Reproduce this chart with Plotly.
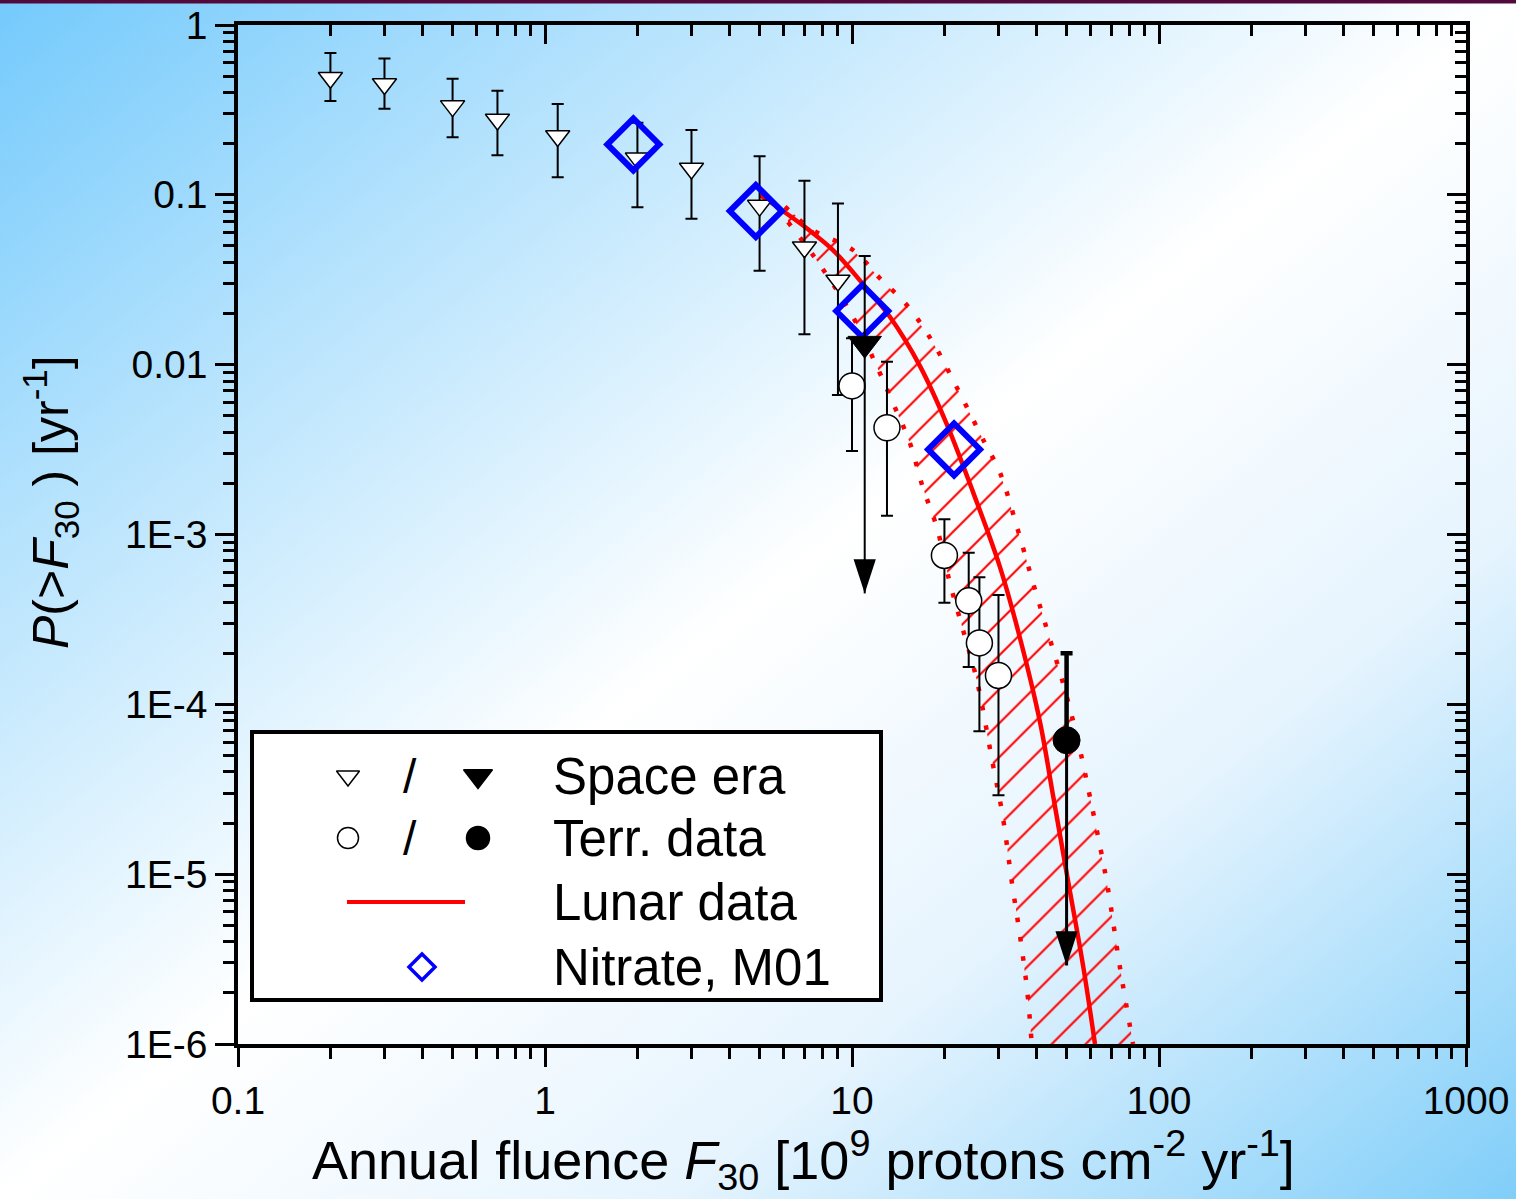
import base64
import plotly.graph_objects as go

# ---------------- data ----------------
# Space era: cumulative probability with error bars (open down-triangles)
space_x = [0.2, 0.3, 0.5, 0.7, 1.1, 2.0, 3.0, 5.0, 7.0, 9.0]
space_y = [0.489, 0.449, 0.333, 0.278, 0.222, 0.164, 0.143, 0.0864, 0.0491, 0.0313]
space_hi = [0.684, 0.634, 0.483, 0.41, 0.343, 0.266, 0.241, 0.169, 0.121, 0.089]
space_lo = [0.357, 0.321, 0.218, 0.171, 0.127, 0.0844, 0.0723, 0.0357, 0.0151, 0.00662]

# Space era upper limit (filled down-triangle)
space_lim_x = [11.0]
space_lim_y = [0.0133]
space_lim_hi = [0.0436]
space_lim_tip = [4.5e-4]

# Terrestrial data (open circles)
terr_x = [10.0, 13.0, 20.0, 24.0, 26.0, 30.0]
terr_y = [0.0075, 0.00425, 7.53e-4, 4.07e-4, 2.3e-4, 1.48e-4]
terr_hi = [0.0143, 0.0104, 1.23e-3, 7.8e-4, 5.6e-4, 4.4e-4]
terr_lo = [0.0031, 0.00129, 3.96e-4, 1.66e-4, 6.95e-5, 2.92e-5]

# Terrestrial upper limit (filled circle)
terr_lim_x = [50.0]
terr_lim_y = [6.15e-5]
terr_lim_hi = [2.0e-4]
terr_lim_tip = [2.9e-6]

# Nitrate, M01 (blue diamonds)
nitrate_x = [1.94, 4.86, 10.8, 21.5]
nitrate_y = [0.198, 0.0803, 0.0207, 0.00317]

# Lunar data: central curve and uncertainty band edges
lunar_x = [5.02, 5.96, 7.12, 8.67, 10.86, 13.3, 16.65, 20.35, 24.79, 30.34, 35.26, 40.97,
           45.26, 50.05, 56.68, 61.87]
lunar_y = [0.0997, 0.0803, 0.0635, 0.0473, 0.0298, 0.01907, 0.00981, 0.00447, 0.001777,
           6.43e-4, 2.45e-4, 7.85e-5, 2.85e-5, 1.01e-5, 2.84e-6, 1.0e-6]
lunar_up_x = [6.05, 7.46, 10.07, 12.3, 15.1, 18.4, 22.0, 27.1, 30.3, 34.5, 38.9, 43.5,
              48.7, 54.1, 59.6, 67.7, 74.6, 82.3]
lunar_up_y = [0.0851, 0.062, 0.0473, 0.0324, 0.0224, 0.0134, 7.28e-3, 3.45e-3, 2.33e-3,
              1.1e-3, 5.17e-4, 2.63e-4, 1.33e-4, 6.41e-5, 2.84e-5, 8.85e-6, 2.83e-6, 1.0e-6]
lunar_lo_x = [6.19, 7.87, 10.07, 12.06, 13.6, 15.45, 17.0, 18.9, 20.8, 23.0, 25.5, 28.6,
              31.0, 33.2, 35.3, 37.2, 38.5]
lunar_lo_y = [0.0691, 0.0386, 0.0191, 9.72e-3, 5.94e-3, 3.45e-3, 1.9e-3, 1.1e-3, 5.25e-4,
              2.74e-4, 1.39e-4, 4.69e-5, 2.17e-5, 8.85e-6, 4.26e-6, 2.07e-6, 1.0e-6]

# Axis ticks
x_tickvals = [0.1, 1, 10, 100, 1000]
x_ticktext = ["0.1", "1", "10", "100", "1000"]
y_tickvals = [1, 0.1, 0.01, 1e-3, 1e-4, 1e-5, 1e-6]
y_ticktext = ["1", "0.1", "0.01", "1E-3", "1E-4", "1E-5", "1E-6"]

legend_rows = ["Space era", "Terr. data", "Lunar data", "Nitrate, M01"]

# ---------------- figure ----------------
W, H = 1516, 1199
ML, MR, MT, MB = 238, 50, 25, 155
PW, PH = W - ML - MR, H - MT - MB
FONT = "Liberation Sans, Arial, sans-serif"
RED = "#ff0000"
BLUE = "#0000ff"


def px_to_paper_x(px):
    return (px - ML) / PW


def px_to_paper_y(py):
    return (H - MB - py) / PH


fig = go.Figure()

# hatched uncertainty band
fig.add_trace(go.Scatter(
    x=lunar_up_x + lunar_lo_x[::-1], y=lunar_up_y + lunar_lo_y[::-1],
    mode="none", fill="toself", fillcolor="rgba(0,0,0,0)",
    fillpattern=dict(shape="/", fgcolor=RED, fgopacity=1, size=24, solidity=0.085,
                     fillmode="overlay"),
    hoverinfo="skip", showlegend=False))
for bx, by in ((lunar_up_x, lunar_up_y), (lunar_lo_x, lunar_lo_y)):
    fig.add_trace(go.Scatter(
        x=bx, y=by, mode="lines",
        line=dict(color=RED, width=4.5, dash="4.5px,15px", shape="spline"),
        hoverinfo="skip", showlegend=False))
fig.add_trace(go.Scatter(
    x=lunar_x, y=lunar_y, mode="lines", line=dict(color=RED, width=4.5, shape="spline"),
    hoverinfo="skip", showlegend=False))

# space era points
fig.add_trace(go.Scatter(
    x=space_x, y=space_y, mode="markers",
    marker=dict(symbol="triangle-down", size=21, color="white", line=dict(color="black", width=1.5)),
    error_y=dict(type="data", symmetric=False,
                 array=[h - y for h, y in zip(space_hi, space_y)],
                 arrayminus=[y - l for y, l in zip(space_y, space_lo)],
                 color="black", thickness=2, width=6),
    showlegend=False))

# terrestrial points
fig.add_trace(go.Scatter(
    x=terr_x, y=terr_y, mode="markers",
    marker=dict(symbol="circle", size=26, color="white", line=dict(color="black", width=1.5)),
    error_y=dict(type="data", symmetric=False,
                 array=[h - y for h, y in zip(terr_hi, terr_y)],
                 arrayminus=[y - l for y, l in zip(terr_y, terr_lo)],
                 color="black", thickness=2, width=6),
    showlegend=False))

# nitrate diamonds
fig.add_trace(go.Scatter(
    x=nitrate_x, y=nitrate_y, mode="markers",
    marker=dict(symbol="diamond-open", size=40, color=BLUE, line=dict(color=BLUE, width=6)),
    showlegend=False))

# upper limits: shaft + arrowhead + upward error bar
for lx, ly, lhi, ltip, sym, size, shaft, bar in (
        (space_lim_x, space_lim_y, space_lim_hi, space_lim_tip, "triangle-down", 29, 2, 2),
        (terr_lim_x, terr_lim_y, terr_lim_hi, terr_lim_tip, "circle", 27, 3, 4.5)):
    fig.add_trace(go.Scatter(
        x=[lx[0], lx[0]], y=[ly[0], ltip[0]], mode="lines",
        line=dict(color="black", width=shaft), hoverinfo="skip", showlegend=False))
    fig.add_trace(go.Scatter(
        x=lx, y=ltip, mode="markers",
        marker=dict(symbol="arrow", angle=180, size=36, color="black", line=dict(width=0)),
        hoverinfo="skip", showlegend=False))
    fig.add_trace(go.Scatter(
        x=lx, y=ly, mode="markers",
        marker=dict(symbol=sym, size=size, color="black", line=dict(color="black", width=1)),
        error_y=dict(type="data", symmetric=False,
                     array=[lhi[0] - ly[0]], arrayminus=[0],
                     color="black", thickness=bar, width=6),
        showlegend=False))

# invisible trace so the mirrored (top/right) axes are drawn
fig.add_trace(go.Scatter(x=[1], y=[1], xaxis="x2", yaxis="y2", mode="markers",
                         marker=dict(opacity=0), hoverinfo="skip", showlegend=False))

# ---------------- legend (drawn inside the plot frame) ----------------
lg_x0, lg_x1 = px_to_paper_x(252), px_to_paper_x(881)
lg_y1, lg_y0 = px_to_paper_y(732), px_to_paper_y(1000)
row_y = [px_to_paper_y(v) for v in (776, 838, 902, 967)]
col_open, col_slash, col_fill = px_to_paper_x(348), px_to_paper_x(410), px_to_paper_x(478)
text_x = px_to_paper_x(551)


def legend_marker(x, y, symbol, size, fill, line_w=1.5, color="black"):
    fig.add_trace(go.Scatter(
        x=[x], y=[y], xaxis="x3", yaxis="y3", mode="markers",
        marker=dict(symbol=symbol, size=size, color=fill, line=dict(color=color, width=line_w)),
        hoverinfo="skip", showlegend=False))


legend_marker(col_open, row_y[0], "triangle-down", 20, "white")
legend_marker(col_fill, row_y[0], "triangle-down", 25, "black")
legend_marker(col_open, row_y[1], "circle", 21, "white")
legend_marker(col_fill, row_y[1], "circle", 23, "black")
fig.add_trace(go.Scatter(
    x=[px_to_paper_x(347), px_to_paper_x(465)], y=[row_y[2], row_y[2]], xaxis="x3", yaxis="y3",
    mode="lines", line=dict(color=RED, width=4), hoverinfo="skip", showlegend=False))
legend_marker(px_to_paper_x(422), row_y[3], "diamond-open", 20, BLUE, line_w=3.5, color=BLUE)

annotations = []
for ry, label in zip(row_y, legend_rows):
    annotations.append(dict(x=text_x, y=ry, xref="paper", yref="paper", text=label,
                            showarrow=False, xanchor="left", yanchor="middle",
                            font=dict(family=FONT, size=51, color="black")))
for ry in row_y[:2]:
    annotations.append(dict(x=col_slash, y=ry, xref="paper", yref="paper", text="/",
                            showarrow=False, xanchor="center", yanchor="middle",
                            font=dict(family=FONT, size=48, color="black")))

# axis titles
annotations.append(dict(
    x=px_to_paper_x(803), y=px_to_paper_y(1160), xref="paper", yref="paper",
    text="Annual fluence <i>F</i><sub>30</sub> [10<sup>9</sup> protons cm<sup>-2</sup> yr<sup>-1</sup>]",
    showarrow=False, xanchor="center", yanchor="middle",
    font=dict(family=FONT, size=54, color="black")))
annotations.append(dict(
    x=px_to_paper_x(50), y=px_to_paper_y(502), xref="paper", yref="paper",
    text="<i>P</i>(><i>F</i><sub>30</sub> ) [yr<sup>-1</sup>]", textangle=-90,
    showarrow=False, xanchor="center", yanchor="middle",
    font=dict(family=FONT, size=50, color="black")))

shapes = [
    dict(type="rect", xref="paper", yref="paper", x0=lg_x0, x1=lg_x1, y0=lg_y0, y1=lg_y1,
         fillcolor="white", line=dict(color="black", width=4), layer="below"),
    dict(type="rect", xref="paper", yref="paper",
         x0=px_to_paper_x(0), x1=px_to_paper_x(W), y0=px_to_paper_y(3.5), y1=px_to_paper_y(0),
         fillcolor="#520a3c", line=dict(width=0), layer="above"),
]

# gradient backdrop
svg = (
    f'<svg xmlns="http://www.w3.org/2000/svg" width="{W}" height="{H}" viewBox="0 0 {W} {H}" '
    'preserveAspectRatio="none"><defs><linearGradient id="g" x1="0" y1="0" x2="1" y2="1">'
    '<stop offset="0" stop-color="#74cafc"/><stop offset="0.22" stop-color="#b4e2fd"/>'
    '<stop offset="0.5" stop-color="#ffffff"/><stop offset="0.72" stop-color="#e6f4fe"/>'
    '<stop offset="1" stop-color="#80cef9"/></linearGradient></defs>'
    f'<rect width="{W}" height="{H}" fill="url(#g)"/></svg>'
)
bg_src = "data:image/svg+xml;base64," + base64.b64encode(svg.encode()).decode()

axis_common = dict(
    type="log", showgrid=False, zeroline=False, showline=True, linecolor="black", linewidth=3.5,
    tickcolor="black", tickwidth=3, ticklen=19, automargin=False,
    tickfont=dict(family=FONT, size=39, color="black"),
)
minor_out = dict(ticks="outside", ticklen=11, tickwidth=3, tickcolor="black", dtick="D1", showgrid=False)
minor_in = dict(ticks="inside", ticklen=11, tickwidth=3, tickcolor="black", dtick="D1", showgrid=False)

fig.update_layout(
    width=W, height=H, autosize=False,
    margin=dict(l=ML, r=MR, t=MT, b=MB, pad=0, autoexpand=False),
    paper_bgcolor="white", plot_bgcolor="rgba(0,0,0,0)",
    showlegend=False,
    xaxis=dict(**axis_common, range=[-1, 3], ticks="outside", tickmode="array",
               tickvals=x_tickvals, ticktext=x_ticktext, minor=minor_out),
    yaxis=dict(**axis_common, range=[-6, 0], ticks="outside", tickmode="array",
               tickvals=y_tickvals, ticktext=y_ticktext, minor=minor_out),
    xaxis2=dict(**axis_common, range=[-1, 3], overlaying="x", side="top", anchor="y2",
                ticks="inside", showticklabels=False, tickmode="array", tickvals=x_tickvals,
                minor=minor_in),
    yaxis2=dict(**axis_common, range=[-6, 0], overlaying="y", side="right", anchor="x2",
                ticks="inside", showticklabels=False, tickmode="array", tickvals=y_tickvals,
                minor=minor_in),
    xaxis3=dict(range=[0, 1], overlaying="x", visible=False, automargin=False),
    yaxis3=dict(range=[0, 1], overlaying="y", visible=False, anchor="x3", automargin=False),
    annotations=annotations,
    shapes=shapes,
    images=[dict(source=bg_src, xref="paper", yref="paper",
                 x=px_to_paper_x(0), y=px_to_paper_y(0),
                 sizex=W / PW, sizey=H / PH, xanchor="left", yanchor="top",
                 sizing="stretch", layer="below")],
)

fig.write_html(
    "out.html",
    post_script="document.body.style.margin='0';document.body.style.overflow='hidden';",
)
